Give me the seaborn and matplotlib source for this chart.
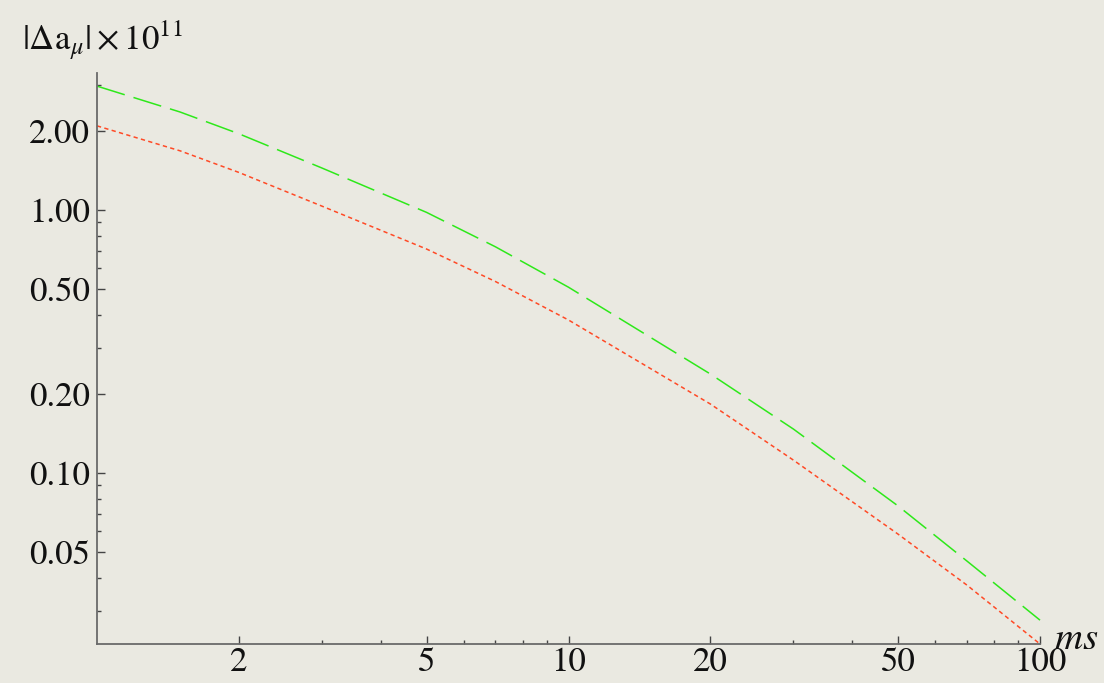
import pandas as pd
import matplotlib
matplotlib.use('Agg')
import matplotlib.pyplot as plt
import matplotlib.ticker as mticker
import seaborn as sns

# values (log-log plot)
ms = [1, 1.5, 2, 3, 5, 7, 10, 20, 30, 50, 70, 100]
green_vals = [2.96, 2.36, 1.95, 1.445, 0.98, 0.725, 0.509, 0.238, 0.147, 0.075, 0.0463, 0.0276]
red_vals = [2.09, 1.68, 1.39, 1.035, 0.711, 0.535, 0.382, 0.183, 0.112, 0.0586, 0.0375, 0.0224]

x_major = [2, 5, 10, 20, 50, 100]
x_minor = [3, 4, 6, 7, 8, 9, 30, 40, 60, 70, 80, 90]
y_major = [0.05, 0.1, 0.2, 0.5, 1.0, 2.0]
y_minor = [0.03, 0.04, 0.06, 0.07, 0.08, 0.09, 0.3, 0.4, 0.6, 0.7, 0.8, 0.9, 3.0]

bg = '#eae9e1'
sns.set_theme(style='ticks')
plt.rcParams['font.family'] = ['STIXGeneral', 'Liberation Serif', 'DejaVu Serif']
plt.rcParams['mathtext.fontset'] = 'stix'

df = pd.DataFrame({
    'ms': ms + ms,
    'val': green_vals + red_vals,
    'curve': ['green'] * len(ms) + ['red'] * len(ms),
})

fig = plt.figure(figsize=(11.04, 6.83), dpi=100, facecolor=bg)
ax = fig.add_axes([97 / 1104, 1 - 644 / 683, (1040 - 97) / 1104, (644 - 73) / 683])
ax.set_facecolor(bg)
ax.set_xscale('log')
ax.set_yscale('log')

sns.lineplot(data=df[df.curve == 'green'], x='ms', y='val', color='#2ee81a', lw=1.1, ax=ax)
sns.lineplot(data=df[df.curve == 'red'], x='ms', y='val', color='#ff4a26', lw=1.1, ax=ax)
ax.lines[0].set_dashes((19, 6))
ax.lines[1].set_dashes((2.8, 2.2))
for ln in ax.lines:
    ln.set_clip_on(False)

ax.set_xlim(1, 100)
ax.set_ylim(0.0224, 3.32)

ax.xaxis.set_major_locator(mticker.FixedLocator(x_major))
ax.xaxis.set_minor_locator(mticker.FixedLocator(x_minor))
ax.xaxis.set_major_formatter(mticker.FixedFormatter([str(v) for v in x_major]))
ax.xaxis.set_minor_formatter(mticker.NullFormatter())
ax.yaxis.set_major_locator(mticker.FixedLocator(y_major))
ax.yaxis.set_minor_locator(mticker.FixedLocator(y_minor))
ax.yaxis.set_major_formatter(mticker.FixedFormatter(['%.2f' % v for v in y_major]))
ax.yaxis.set_minor_formatter(mticker.NullFormatter())

ax.tick_params(which='major', direction='in', length=6, width=1, color='#444444',
               labelsize=25, labelcolor='#111111', pad=5)
ax.tick_params(which='minor', direction='in', length=3, width=1, color='#444444')
ax.tick_params(axis='x', which='major', pad=2)

sns.despine(ax=ax)
for s in ['left', 'bottom']:
    ax.spines[s].set_color('#6a6a6a')
    ax.spines[s].set_linewidth(1.3)
ax.grid(False)
ax.set_xlabel('')
ax.set_ylabel('')

fig.text(22 / 1104, 1 - 50 / 683, r'$|\Delta\mathrm{a}_{\mu}|\times 10^{11}$',
         fontsize=25, color='#111111', va='baseline', ha='left')
fig.text(1054 / 1104, 1 - 649 / 683, r'$ms$', fontsize=28,
         color='#111111', va='baseline', ha='left')

fig.savefig('out.png', dpi=100, facecolor=bg)
